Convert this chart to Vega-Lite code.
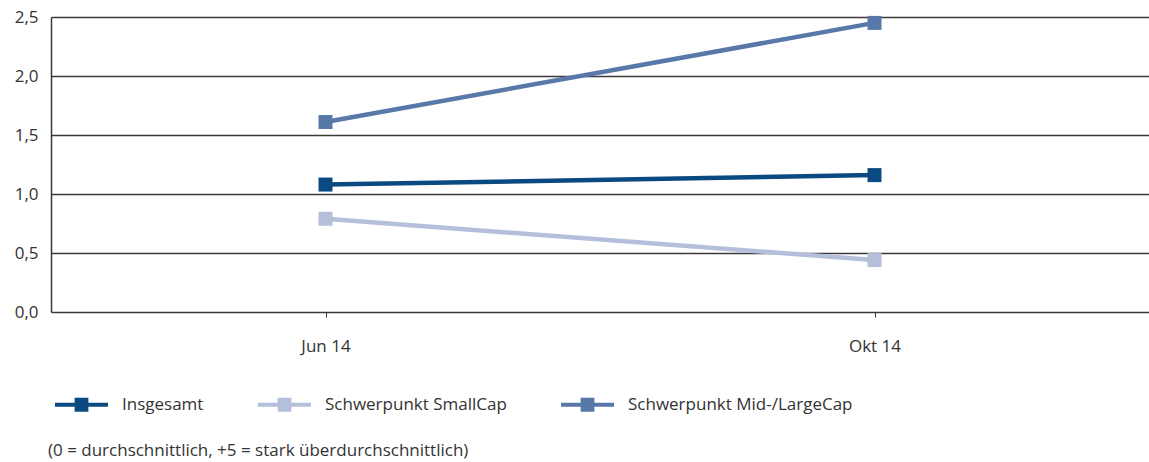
{
  "$schema": "https://vega.github.io/schema/vega-lite/v6.json",
  "width": 1098,
  "height": 295,
  "autosize": {"type": "none"},
  "padding": {"left": 51, "top": 17, "right": 0, "bottom": 150},
  "background": "white",
  "config": {
    "locale": {"number": {"decimal": ",", "thousands": ".", "grouping": [3], "currency": ["", " €"]}},
    "font": "Open Sans",
    "view": {"stroke": null},
    "title": {"font": "Open Sans", "fontSize": 17, "fontWeight": "normal", "color": "#333333"}
  },
  "title": {"text": "(0 = durchschnittlich, +5 = stark überdurchschnittlich)", "orient": "bottom", "anchor": "start", "frame": "group", "offset": 30, "dx": -3},
  "data": {
    "values": [
      {"monat": "Jun 14", "serie": "Insgesamt", "wert": 1.08},
      {"monat": "Okt 14", "serie": "Insgesamt", "wert": 1.16},
      {"monat": "Jun 14", "serie": "Schwerpunkt SmallCap", "wert": 0.79},
      {"monat": "Okt 14", "serie": "Schwerpunkt SmallCap", "wert": 0.44},
      {"monat": "Jun 14", "serie": "Schwerpunkt Mid-/LargeCap", "wert": 1.61},
      {"monat": "Okt 14", "serie": "Schwerpunkt Mid-/LargeCap", "wert": 2.45}
    ]
  },
  "encoding": {
    "x": {
      "field": "monat", "type": "nominal", "sort": ["Jun 14", "Okt 14"],
      "scale": {"type": "point", "padding": 0.5},
      "axis": {"title": null, "labelAngle": 0, "domain": false, "grid": false, "ticks": true, "tickSize": 5, "tickColor": "#333333", "labelPadding": 21, "labelFontSize": 17, "labelColor": "#333333", "labelFont": "Open Sans"}
    },
    "y": {
      "field": "wert", "type": "quantitative",
      "scale": {"domain": [0, 2.5], "nice": false},
      "axis": {"title": null, "values": [0, 0.5, 1, 1.5, 2, 2.5], "format": ".1f", "ticks": false, "labelPadding": 13, "labelFontSize": 17, "labelColor": "#333333", "labelFont": "Open Sans", "grid": true, "gridColor": "#3a3a3a", "gridWidth": 1.5, "gridOpacity": 1, "domain": true, "domainColor": "#3a3a3a", "domainWidth": 1.5}
    },
    "color": {
      "field": "serie", "type": "nominal",
      "scale": {"domain": ["Insgesamt", "Schwerpunkt SmallCap", "Schwerpunkt Mid-/LargeCap"], "range": ["#0a4a80", "#b3bfdb", "#5878a9"]},
      "legend": {
        "title": null, "orient": "none", "direction": "horizontal", "legendX": 4, "legendY": 361,
        "padding": 0, "columnPadding": 54, "labelOffset": 14, "labelFontSize": 17, "labelLimit": 500, "labelColor": "#333333", "labelFont": "Open Sans",
        "symbolType": "M-1,-0.08H1V0.08H-1Z M-0.26,-0.26H0.26V0.26H-0.26Z",
        "symbolSize": 2809, "symbolStrokeWidth": 0, "symbolOpacity": 1,
        "encode": {"symbols": {"update": {"fill": {"scale": "color", "field": "value"}, "stroke": {"value": "transparent"}, "opacity": {"value": 1}}}}
      }
    }
  },
  "layer": [
    {
      "mark": {"type": "line", "strokeWidth": 4.5}
    },
    {
      "mark": {"type": "point", "shape": "square", "filled": true, "size": 196, "opacity": 1}
    }
  ]
}
